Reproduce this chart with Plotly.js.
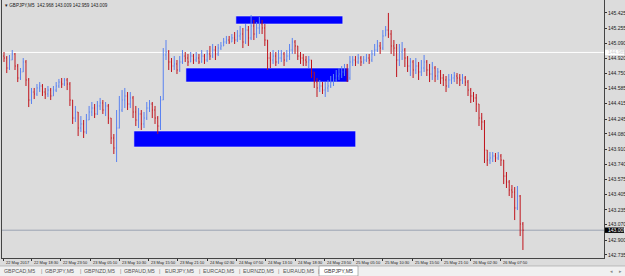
<!DOCTYPE html>
<html><head><meta charset="utf-8">
<script src="https://cdn.plot.ly/plotly-3.0.1.min.js"></script>
<style>html,body{margin:0;padding:0;background:#dcdcdc;}#chart{width:625px;height:276px;}</style>
</head><body><div id="chart"></div>
<script>
// ---------- data ----------
const SYMBOL = 'GBPJPY,M5';
const HEADER_OHLC = ['142.968', '143.009', '142.959', '143.009'];
const BAR_START = Date.UTC(2017, 4, 22, 13, 30);   // first bar (30-minute aggregation)
const BAR_MINUTES = 30;

const OPEN = [144.945,144.923,144.812,144.901,144.968,144.834,144.701,144.768,144.879,144.679,
 144.456,144.545,144.523,144.590,144.612,144.545,144.523,144.567,144.501,144.567,
 144.612,144.656,144.634,144.679,144.634,144.456,144.256,144.323,144.145,144.190,
 144.101,144.234,144.323,144.367,144.301,144.390,144.423,144.345,144.390,144.256,
 144.034,143.923,144.145,144.345,144.456,144.501,144.412,144.479,144.323,144.234,
 144.301,144.190,144.256,144.367,144.412,144.345,144.256,144.167,144.456,144.957,
 144.990,144.879,144.834,144.857,144.790,144.879,144.945,144.923,144.879,144.945,
 144.901,144.923,144.879,144.945,144.901,144.968,144.945,145.012,144.968,145.034,
 145.057,145.101,145.123,145.101,145.146,145.123,145.168,145.190,145.101,145.234,
 145.146,145.279,145.190,145.257,145.301,145.257,145.123,144.923,144.901,144.945,
 144.879,144.923,144.968,144.901,144.945,145.012,145.101,145.057,144.945,144.923,
 144.901,144.879,144.901,144.768,144.656,144.590,144.612,144.567,144.590,144.612,
 144.656,144.679,144.723,144.745,144.768,144.790,144.701,144.879,144.901,144.879,
 144.923,144.879,144.901,144.923,144.901,144.968,145.012,145.057,145.034,145.168,
 145.234,145.190,145.057,145.034,144.901,144.990,145.012,144.923,144.834,144.879,
 144.790,144.834,144.768,144.812,144.879,144.790,144.745,144.812,144.723,144.768,
 144.701,144.679,144.612,144.679,144.701,144.723,144.701,144.679,144.701,144.656,
 144.567,144.501,144.479,144.412,144.256,144.212,143.900,143.789,143.812,143.834,
 143.812,143.834,143.789,143.611,143.545,143.456,143.433,143.256,143.389,143.078];

const HIGH = [144.990,144.945,144.957,145.012,144.979,144.857,144.812,144.923,144.901,144.701,
 144.590,144.590,144.634,144.656,144.634,144.590,144.612,144.590,144.612,144.656,
 144.690,144.701,144.701,144.701,144.656,144.456,144.390,144.323,144.278,144.234,
 144.301,144.390,144.434,144.412,144.445,144.479,144.456,144.434,144.412,144.256,
 144.078,144.345,144.501,144.567,144.590,144.545,144.545,144.501,144.390,144.367,
 144.345,144.323,144.434,144.456,144.434,144.390,144.278,144.501,145.034,145.123,
 145.012,144.923,144.945,144.901,144.945,145.012,144.990,144.968,144.990,144.968,
 144.990,144.968,145.012,144.968,145.012,145.057,145.079,145.057,145.079,145.101,
 145.146,145.168,145.168,145.190,145.212,145.234,145.279,145.257,145.301,145.279,
 145.401,145.346,145.323,145.379,145.346,145.301,145.123,144.990,145.012,144.990,
 145.012,145.012,144.990,145.012,145.079,145.146,145.123,145.057,144.990,144.968,
 144.945,144.945,144.901,144.768,144.701,144.679,144.656,144.656,144.679,144.723,
 144.745,144.790,144.812,144.834,144.857,144.857,144.945,144.945,144.945,144.968,
 144.945,144.945,144.968,144.968,145.012,145.079,145.123,145.101,145.234,145.279,
 145.424,145.234,145.123,145.079,145.079,145.101,145.034,144.945,144.923,144.901,
 144.923,144.879,144.901,144.957,144.901,144.857,144.879,144.834,144.812,144.790,
 144.745,144.723,144.745,144.745,144.768,144.756,144.745,144.745,144.723,144.679,
 144.590,144.545,144.523,144.412,144.312,144.234,143.900,143.878,143.878,143.867,
 143.878,143.856,143.789,143.656,143.567,143.511,143.489,143.500,143.400,143.100];

const LOW = [144.879,144.756,144.790,144.901,144.790,144.656,144.679,144.768,144.612,144.378,
 144.412,144.467,144.501,144.545,144.501,144.467,144.490,144.456,144.501,144.545,
 144.590,144.590,144.612,144.567,144.390,144.190,144.212,144.056,144.101,144.034,
 144.078,144.234,144.278,144.256,144.290,144.345,144.301,144.278,144.190,143.967,
 143.856,143.767,144.140,144.323,144.367,144.345,144.367,144.256,144.167,144.145,
 144.123,144.145,144.234,144.323,144.256,144.190,144.078,144.123,144.456,144.901,
 144.790,144.768,144.790,144.745,144.768,144.857,144.879,144.834,144.879,144.857,
 144.879,144.857,144.870,144.857,144.879,144.901,144.923,144.901,144.945,145.012,
 145.057,145.079,145.079,145.101,145.079,145.101,145.123,145.034,145.079,145.057,
 145.123,145.123,145.146,145.190,145.190,145.057,144.790,144.812,144.857,144.834,
 144.857,144.879,144.834,144.879,144.901,144.968,144.968,144.901,144.857,144.834,
 144.834,144.812,144.701,144.590,144.490,144.545,144.523,144.490,144.545,144.590,
 144.612,144.656,144.679,144.701,144.723,144.656,144.679,144.834,144.834,144.857,
 144.834,144.857,144.879,144.857,144.879,144.945,144.990,144.968,145.012,145.168,
 145.146,144.968,144.945,144.712,144.834,144.901,144.823,144.768,144.723,144.701,
 144.745,144.679,144.723,144.768,144.723,144.656,144.679,144.656,144.679,144.634,
 144.612,144.545,144.590,144.634,144.656,144.634,144.612,144.634,144.612,144.501,
 144.423,144.434,144.323,144.167,144.123,143.756,143.723,143.745,143.767,143.767,
 143.789,143.723,143.522,143.478,143.389,143.367,143.122,143.233,142.944,142.789];

const CLOSE = [144.923,144.812,144.901,144.968,144.834,144.701,144.768,144.879,144.679,144.456,
 144.545,144.523,144.590,144.612,144.545,144.523,144.567,144.501,144.567,144.612,
 144.656,144.634,144.679,144.634,144.456,144.256,144.323,144.145,144.190,144.101,
 144.234,144.323,144.367,144.301,144.390,144.423,144.345,144.390,144.256,144.034,
 143.923,144.145,144.345,144.456,144.501,144.412,144.479,144.323,144.234,144.301,
 144.190,144.256,144.367,144.412,144.345,144.256,144.167,144.456,144.957,144.990,
 144.879,144.834,144.857,144.790,144.879,144.945,144.923,144.879,144.945,144.901,
 144.923,144.879,144.945,144.901,144.968,144.945,145.012,144.968,145.034,145.057,
 145.101,145.123,145.101,145.146,145.123,145.168,145.190,145.101,145.234,145.146,
 145.279,145.190,145.257,145.301,145.257,145.123,144.923,144.901,144.945,144.879,
 144.923,144.968,144.901,144.945,145.012,145.101,145.057,144.945,144.923,144.901,
 144.879,144.901,144.768,144.656,144.590,144.612,144.567,144.590,144.612,144.656,
 144.679,144.723,144.745,144.768,144.790,144.701,144.879,144.901,144.879,144.923,
 144.879,144.901,144.923,144.901,144.968,145.012,145.057,145.034,145.168,145.234,
 145.190,145.057,145.034,144.901,144.990,145.012,144.923,144.834,144.879,144.790,
 144.834,144.768,144.812,144.879,144.790,144.745,144.812,144.723,144.768,144.701,
 144.679,144.612,144.679,144.701,144.723,144.701,144.679,144.701,144.656,144.567,
 144.501,144.479,144.412,144.256,144.212,143.900,143.789,143.812,143.834,143.812,
 143.834,143.789,143.611,143.545,143.456,143.433,143.256,143.389,143.078,143.009];

// price scale labels (right axis)
const Y_TICKS = [145.425,145.255,145.090,144.920,144.750,144.585,144.415,144.245,144.080,
 143.910,143.740,143.575,143.405,143.235,143.070,142.900,142.735];

// time scale labels
const X_TICK_TIMES = ['2017-05-22 13:20','2017-05-22 18:30','2017-05-22 23:50','2017-05-23 05:10',
 '2017-05-23 10:30','2017-05-23 15:50','2017-05-23 21:10','2017-05-24 02:30','2017-05-24 07:50',
 '2017-05-24 13:10','2017-05-24 18:30','2017-05-24 23:50','2017-05-25 05:10','2017-05-25 10:30',
 '2017-05-25 15:50','2017-05-25 21:10','2017-05-26 02:30','2017-05-26 07:50'];
const X_TICK_LABELS = ['22 May 2017','22 May 18:30','22 May 23:50','23 May 05:10','23 May 10:30',
 '23 May 15:50','23 May 21:10','24 May 02:30','24 May 07:50','24 May 13:10','24 May 18:30',
 '24 May 23:50','25 May 05:10','25 May 10:30','25 May 15:50','25 May 21:10','26 May 02:30','26 May 07:50'];

// drawn rectangles (zones): start time, end time, upper price, lower price
const ZONE_START = ['2017-05-24 07:43','2017-05-23 22:37','2017-05-23 13:09'];
const ZONE_END   = ['2017-05-25 03:12','2017-05-25 04:17','2017-05-25 05:33'];
const ZONE_TOP   = [145.390, 144.812, 144.112];
const ZONE_BOTTOM= [145.301, 144.656, 143.934];

const HLINE_PRICE = 144.985;   // white horizontal line
const BID_PRICE = 143.009;     // current price line

const TAB_LABELS = ['GBPCAD,M5','GBPJPY,M5','GBPNZD,M5','GBPAUD,M5','EURJPY,M5','EURCAD,M5','EURNZD,M5','EURAUD,M5'];
const ACTIVE_TAB = 'GBPJPY,M5';

// ---------- build ----------
function fmt(ms){ return new Date(ms).toISOString().slice(0,16).replace('T',' '); }
const TIMES = CLOSE.map((_, i) => fmt(BAR_START + i*BAR_MINUTES*60000));

const W = 625, H = 276, ML = 2, MR = 21, MT = 0, MB = 18;
const PW = W - ML - MR, PH = H - MT - MB;
const px = x => (x - ML) / PW;       // pixel -> paper x
const py = y => (PH + MT - y) / PH;  // pixel -> paper y

const FONT = 'Liberation Sans, Arial, sans-serif';
const AXFONT = 5;
const TIMEFONT = 4;

const shapes = [];
const annotations = [];

ZONE_TOP.forEach((t, i) => {
  shapes.push({type:'rect', layer:'below', xref:'x', yref:'y',
    x0:ZONE_START[i], x1:ZONE_END[i], y0:ZONE_BOTTOM[i], y1:t,
    fillcolor:'#0000ff', line:{color:'#eeeeee', width:0.6}});
});
shapes.push({type:'line', layer:'below', xref:'paper', yref:'y', x0:0, x1:1, y0:HLINE_PRICE, y1:HLINE_PRICE,
  line:{color:'#ffffff', width:1}});
shapes.push({type:'line', layer:'below', xref:'paper', yref:'y', x0:0, x1:1, y0:BID_PRICE, y1:BID_PRICE,
  line:{color:'#9aa3b3', width:1}});

// price boxes on the axis
shapes.push({type:'rect', xref:'paper', yref:'y', x0:px(605), x1:px(624), y0:HLINE_PRICE-0.03, y1:HLINE_PRICE+0.03,
  fillcolor:'#ffffff', line:{width:0}});
annotations.push({xref:'paper', yref:'y', x:px(606), y:HLINE_PRICE, xanchor:'left', yanchor:'middle',
  text:HLINE_PRICE.toFixed(3), showarrow:false, font:{family:FONT, size:AXFONT, color:'#d0d0d0'}});
shapes.push({type:'rect', xref:'paper', yref:'y', x0:px(605), x1:px(624), y0:BID_PRICE-0.03, y1:BID_PRICE+0.03,
  fillcolor:'#000000', line:{width:0}});
annotations.push({xref:'paper', yref:'y', x:px(606), y:BID_PRICE, xanchor:'left', yanchor:'middle',
  text:BID_PRICE.toFixed(3), showarrow:false, font:{family:FONT, size:AXFONT, color:'#ffffff'}});

// time labels: left-aligned just right of each tick, as on the terminal
X_TICK_TIMES.forEach((t, i) => {
  annotations.push({xref:'x', yref:'paper', x:t, y:py(262.2), xanchor:'left', yanchor:'middle',
    xshift:0.5, text:X_TICK_LABELS[i], showarrow:false, font:{family:FONT, size:TIMEFONT, color:'#1a1a1a'}});
});

// header
annotations.push({xref:'paper', yref:'paper', x:px(3), y:py(1), xanchor:'left', yanchor:'top',
  text:'\u25BE ' + SYMBOL + '  ' + HEADER_OHLC.join(' '), showarrow:false,
  font:{family:FONT, size:4.6, color:'#1a1a1a'}});

// tab bar
shapes.push({type:'rect', xref:'paper', yref:'paper', x0:px(0), x1:px(625), y0:py(276), y1:py(266),
  fillcolor:'#f0f0f0', line:{width:0}});
shapes.push({type:'line', xref:'paper', yref:'paper', x0:px(0), x1:px(625), y0:py(266), y1:py(266),
  line:{color:'#a0a0a0', width:0.6}});
TAB_LABELS.forEach((t, i) => {
  annotations.push({xref:'paper', yref:'paper', x:px(19.5 + 39.9*i), y:py(271), xanchor:'center', yanchor:'middle',
    text:t, showarrow:false, font:{family:FONT, size:5.3, color:'#555555'}});
  annotations.push({xref:'paper', yref:'paper', x:px(41 + 39.6*i), y:py(271), xanchor:'center', yanchor:'middle',
    text:'|', showarrow:false, font:{family:FONT, size:5.3, color:'#777777'}});
});
shapes.push({type:'rect', xref:'paper', yref:'paper', x0:px(319), x1:px(358), y0:py(276), y1:py(266),
  fillcolor:'#ffffff', line:{color:'#888888', width:0.6}});
annotations.push({xref:'paper', yref:'paper', x:px(338.5), y:py(271), xanchor:'center', yanchor:'middle',
  text:ACTIVE_TAB, showarrow:false, font:{family:FONT, size:5.3, color:'#333333'}});
annotations.push({xref:'paper', yref:'paper', x:px(611), y:py(271), xanchor:'center', yanchor:'middle',
  text:'\u25C2', showarrow:false, font:{family:FONT, size:5, color:'#888888'}});
annotations.push({xref:'paper', yref:'paper', x:px(620), y:py(271), xanchor:'center', yanchor:'middle',
  text:'\u25B8', showarrow:false, font:{family:FONT, size:5, color:'#888888'}});

const trace = {
  type:'ohlc', x:TIMES, open:OPEN, high:HIGH, low:LOW, close:CLOSE,
  increasing:{line:{color:'#5a82f0', width:1}},
  decreasing:{line:{color:'#c0141c', width:1}},
  tickwidth:0.25, hoverinfo:'skip'
};

const layout = {
  width:W, height:H,
  margin:{l:ML, r:MR, t:MT, b:MB, pad:0},
  paper_bgcolor:'#dcdcdc', plot_bgcolor:'#dcdcdc',
  font:{family:FONT, size:AXFONT, color:'#1a1a1a'},
  showlegend:false,
  xaxis:{type:'date', range:['2017-05-22 13:08','2017-05-27 02:46'],
    tickmode:'array', tickvals:X_TICK_TIMES, showticklabels:false,
    ticks:'outside', ticklen:2, tickcolor:'#333',
    showline:true, linecolor:'#444', linewidth:1, showgrid:false, zeroline:false,
    rangeslider:{visible:false}, fixedrange:true},
  yaxis:{side:'right', range:[142.700, 145.568],
    tickmode:'array', tickvals:Y_TICKS, ticktext:Y_TICKS.map(v => v.toFixed(3)),
    ticks:'outside', ticklen:2, tickcolor:'#333',
    tickfont:{family:FONT, size:AXFONT, color:'#1a1a1a'},
    showline:true, mirror:true, linecolor:'#444', linewidth:1, showgrid:false, zeroline:false, fixedrange:true},
  shapes:shapes, annotations:annotations
};

Plotly.newPlot('chart', [trace], layout, {staticPlot:true, displayModeBar:false});
</script></body></html>
